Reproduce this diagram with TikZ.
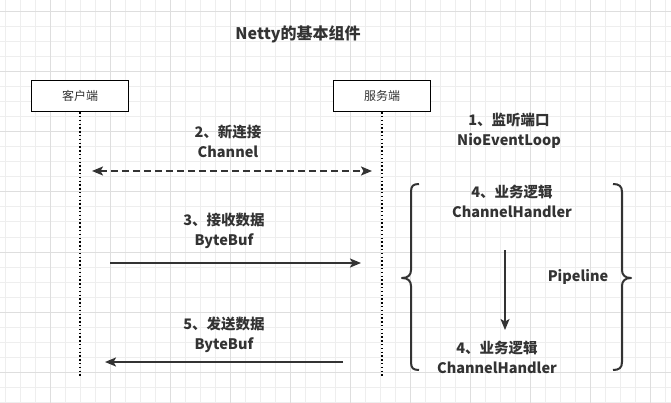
\documentclass[tikz,border=0pt]{standalone}
\usepackage{fontspec}
\setmainfont{Noto Sans CJK SC}
\usetikzlibrary{arrows.meta, positioning}
\definecolor{gridminor}{RGB}{238,238,238}
\definecolor{gridmajor}{RGB}{222,222,222}
\definecolor{inkdark}{RGB}{51,51,51}

\begin{document}
\begin{tikzpicture}[
  x=1pt, y=-1pt,
  actor/.style={draw=black, fill=white, line width=1.5pt,
                minimum width=97pt, minimum height=31pt,
                font=\fontsize{12}{14}\selectfont, text=inkdark},
  lbl/.style={align=center, text=inkdark,
              font=\fontsize{14.5}{20}\selectfont\bfseries},
  msg/.style={-{Stealth[length=11pt, width=9pt, inset=2.5pt]}, inkdark,
              line width=2pt},
  biway/.style={{Stealth[length=11pt, width=9pt, inset=2.5pt]}-{Stealth[length=11pt, width=9pt, inset=2.5pt]},
                inkdark, line width=2pt, dash pattern=on 7pt off 4pt},
  lifeline/.style={black, line width=1.3pt, dash pattern=on 1.3pt off 2.5pt},
  bracket/.style={inkdark, line width=2pt, line join=round},
]
  % canvas and grid
  \useasboundingbox (0,0) rectangle (671,403);
  \fill[white] (0,0) rectangle (671,403);
  \foreach \gx in {5,20,...,665}
    \draw[gridminor, line width=1pt] (\gx,0) -- (\gx,403);
  \foreach \gy in {12,27,...,402}
    \draw[gridminor, line width=1pt] (0,\gy) -- (671,\gy);
  \foreach \gx in {50,110,...,650}
    \draw[gridmajor, line width=1pt] (\gx,0) -- (\gx,403);
  \foreach \gy in {12,72,...,372}
    \draw[gridmajor, line width=1pt] (0,\gy) -- (671,\gy);

  % title
  \node[lbl, font=\fontsize{16}{20}\selectfont\bfseries] (title) at (298,34)
    {Netty的基本组件};

  % actors and lifelines
  \node[actor] (client) at (80,96) {客户端};
  \node[actor] (server) at (382,96) {服务端};
  \coordinate (clientEnd) at (80,378);
  \coordinate (serverEnd) at (382,378);
  \draw[lifeline] (client.south) -- (clientEnd);
  \draw[lifeline] (server.south) -- (serverEnd);

  % messages
  \node[lbl] (listen) at (509,131) {1、监听端口\\NioEventLoop};
  \node[lbl] (connect) at (228,141) {2、新连接\\Channel};
  \node[lbl] (receive) at (224,231) {3、接收数据\\ByteBuf};
  \node[lbl] (send) at (224,335) {5、发送数据\\ByteBuf};

  \coordinate (connL) at (92,171);
  \coordinate (connR) at (372,171);
  \draw[biway] (connL) -- (connR);
  \coordinate (recvL) at (110,263);
  \coordinate (recvR) at (361,263);
  \draw[msg] (recvL) -- (recvR);
  \coordinate (sendR) at (343,362);
  \coordinate (sendL) at (105,362);
  \draw[msg] (sendR) -- (sendL);

  % pipeline
  \node[lbl] (handlerA) at (512,201) {4、业务逻辑\\ChannelHandler};
  \node[lbl] (handlerB) at (497,357) {4、业务逻辑\\ChannelHandler};
  \node[lbl] (pipeline) at (578,277) {Pipeline};
  \coordinate (flowTop) at (505,250);
  \coordinate (flowEnd) at (505,330);
  \draw[msg, line width=1.5pt] (flowTop) -- (flowEnd);

  \draw[bracket] (419,184) .. controls (413,184) and (411,186) .. (411,192)
    -- (411,270) .. controls (411,275) and (408,278) .. (402,278)
    .. controls (408,278) and (411,281) .. (411,286)
    -- (411,362) .. controls (411,368) and (413,370) .. (419,370);
  \draw[bracket] (613,184) .. controls (619,184) and (622,186) .. (622,192)
    -- (622,270) .. controls (622,275) and (625,278) .. (631,278)
    .. controls (625,278) and (622,281) .. (622,286)
    -- (622,362) .. controls (622,368) and (619,370) .. (613,370);
\end{tikzpicture}
\end{document}
